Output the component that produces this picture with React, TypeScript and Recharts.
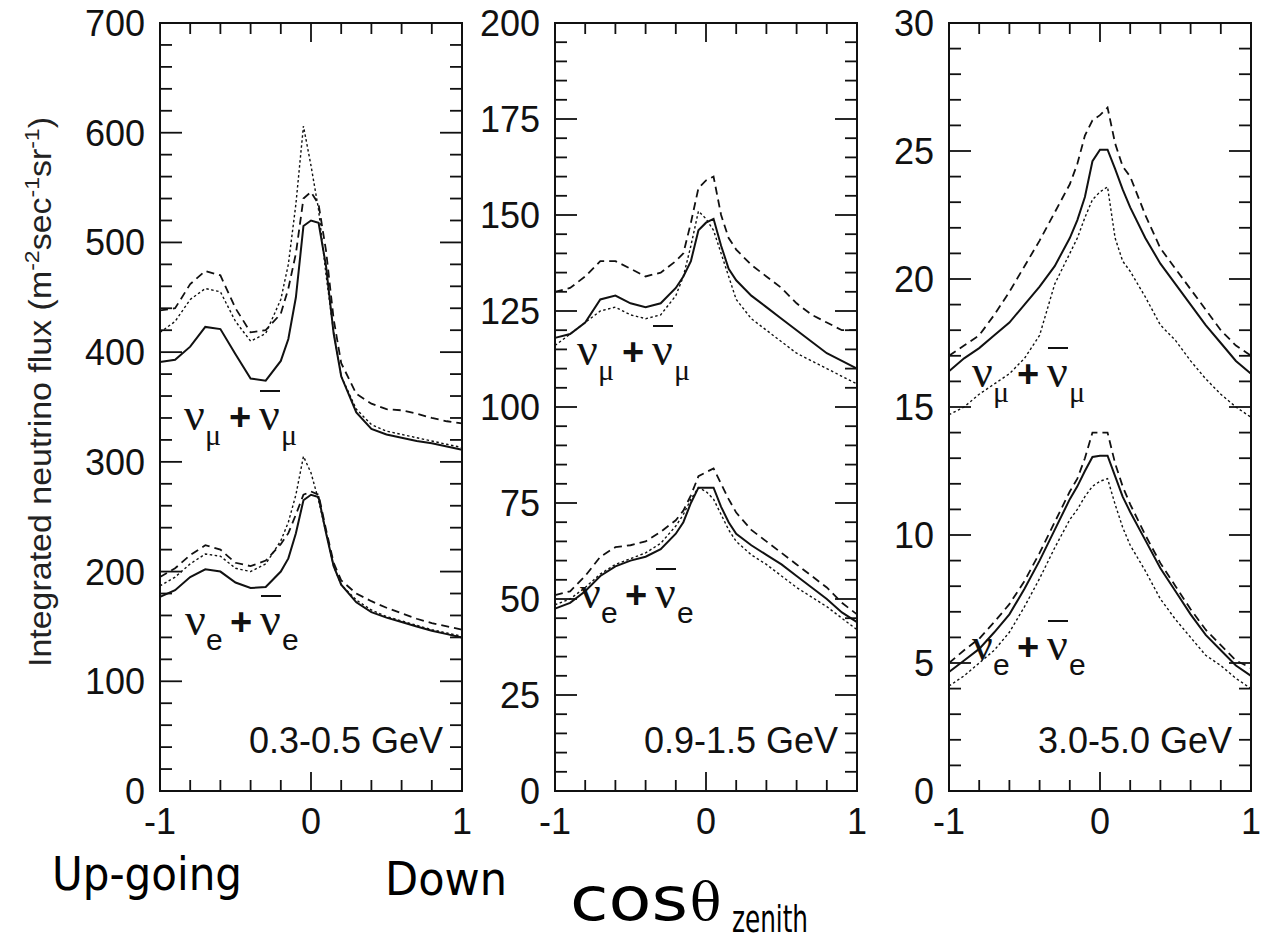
import React from 'react';
import { LineChart, Line, XAxis, YAxis, ReferenceArea } from 'recharts';

// cos(theta_zenith) sample points, shared by every curve
const COS_THETA = [-1, -0.9, -0.8, -0.7, -0.6, -0.5, -0.4, -0.3, -0.2, -0.15, -0.1, -0.05, 0, 0.05, 0.1, 0.15, 0.2, 0.3, 0.4, 0.5, 0.6, 0.7, 0.8, 0.9, 1];

// 0.3-0.5 GeV
const LOW_MU_SOLID = [391, 393, 405, 423, 421, 398, 376, 374, 392, 412, 450, 515, 520, 518, 478, 417, 378, 345, 330, 325, 322, 319, 317, 314, 311];
const LOW_MU_DASHED = [438, 440, 462, 474, 470, 440, 418, 420, 435, 458, 490, 540, 546, 535, 492, 430, 390, 362, 353, 348, 347, 344, 340, 337, 335];
const LOW_MU_DOTTED = [418, 428, 448, 458, 455, 428, 410, 417, 448, 480, 535, 606, 570, 530, 470, 418, 378, 348, 334, 328, 325, 322, 319, 316, 313];
const LOW_E_SOLID = [177, 183, 195, 202, 200, 190, 185, 186, 200, 212, 235, 265, 270, 268, 235, 205, 188, 172, 163, 158, 154, 150, 146, 143, 140];
const LOW_E_DASHED = [195, 203, 215, 224, 220, 208, 205, 210, 225, 235, 252, 270, 273, 270, 238, 208, 192, 180, 173, 167, 162, 157, 153, 150, 147];
const LOW_E_DOTTED = [187, 195, 207, 216, 214, 203, 200, 207, 228, 245, 270, 305, 290, 265, 235, 205, 188, 174, 165, 159, 155, 151, 147, 144, 141];

// 0.9-1.5 GeV
const MID_MU_SOLID = [118, 119, 122, 128, 129, 127, 126, 127, 131, 134, 138, 146, 148, 149, 142, 136, 133, 129, 126, 123, 120, 117, 114, 112, 110];
const MID_MU_DASHED = [130, 131, 134, 138, 138, 136, 134, 135, 138, 140, 148, 157, 159, 160, 150, 144, 141, 137, 134, 131, 127, 124, 122, 120, 120];
const MID_MU_DOTTED = [116, 119, 122, 125, 126, 124, 123, 124, 129, 134, 142, 151, 149, 146, 140, 134, 128, 123, 120, 117, 114, 112, 110, 108, 106];
const MID_E_SOLID = [47.5, 49, 52, 56, 58.5, 60, 61, 63, 67, 70, 75, 79, 79, 79, 74, 70, 67, 64, 61.5, 59, 56, 53, 50, 46.5, 44];
const MID_E_DASHED = [51, 52, 56, 61, 63.5, 64, 65, 67.5, 70.5, 73, 77, 82, 83, 84, 80, 76, 72.5, 68, 65, 62, 59, 56, 53, 49, 46];
const MID_E_DOTTED = [48.5, 50, 53, 56.5, 59, 60.5, 62, 64.5, 69, 72, 76, 79, 78, 76, 72, 68, 65, 61.5, 59, 56, 53, 50.5, 48, 45, 42];

// 3.0-5.0 GeV
const HIGH_MU_SOLID = [16.4, 16.9, 17.3, 17.8, 18.3, 19.0, 19.7, 20.5, 21.6, 22.3, 23.2, 24.6, 25.05, 25.05, 24.3, 23.5, 22.8, 21.6, 20.6, 19.8, 19.0, 18.2, 17.5, 16.8, 16.3];
const HIGH_MU_DASHED = [17.0, 17.4, 17.8, 18.6, 19.5, 20.5, 21.5, 22.6, 23.7, 24.5, 25.6, 26.2, 26.4, 26.7, 25.3, 24.4, 24.0, 22.5, 21.2, 20.4, 19.6, 18.8, 18.0, 17.4, 17.0];
const HIGH_MU_DOTTED = [14.7, 15.0, 15.5, 15.9, 16.3, 16.9, 17.8, 19.8, 21.0, 21.6, 22.4, 23.1, 23.4, 23.6, 21.6, 20.7, 20.3, 19.3, 18.2, 17.6, 16.8, 16.1, 15.5, 15.0, 14.6];
const HIGH_E_SOLID = [4.65, 5.1, 5.55, 6.2, 6.9, 7.9, 9.0, 10.2, 11.4, 11.9, 12.5, 13.05, 13.1, 13.1, 12.3, 11.5, 10.9, 9.8, 8.7, 7.8, 6.9, 6.1, 5.5, 4.9, 4.5];
const HIGH_E_DASHED = [5.0, 5.5, 5.95, 6.6, 7.3, 8.2, 9.3, 10.5, 11.7, 12.2, 13.0, 14.0, 14.0, 14.0, 12.8, 11.9, 11.2, 10.0, 8.9, 8.0, 7.1, 6.3, 5.7, 5.1, 4.8];
const HIGH_E_DOTTED = [4.1, 4.5, 5.0, 5.5, 6.2, 7.2, 8.3, 9.5, 10.6, 11.0, 11.5, 11.9, 12.1, 12.2, 11.2, 10.3, 9.6, 8.6, 7.5, 6.7, 6.0, 5.3, 4.9, 4.4, 4.0];

const X_TICKS = [-1, -0.8, -0.6, -0.4, -0.2, 0, 0.2, 0.4, 0.6, 0.8, 1];
const X_LABELS = [-1, 0, 1];
const LOW_Y_LABELS = [0, 100, 200, 300, 400, 500, 600, 700];
const MID_Y_LABELS = [0, 25, 50, 75, 100, 125, 150, 175, 200];
const HIGH_Y_LABELS = [0, 5, 10, 15, 20, 25, 30];

const ENERGY_LABELS = ['0.3-0.5 GeV', '0.9-1.5 GeV', '3.0-5.0 GeV'];

const PLOT_TOP = 23;
const PLOT_H = 768;
const PLOT_W = 302;
const INK = '#111';
const SANS = "'Liberation Sans', Arial, sans-serif";

const buildRows = (mu: number[][], e: number[][]) =>
  COS_THETA.map((c, i) => ({
    c,
    muSolid: mu[0][i],
    muDashed: mu[1][i],
    muDotted: mu[2][i],
    eSolid: e[0][i],
    eDashed: e[1][i],
    eDotted: e[2][i],
  }));

const PANELS = [
  { left: 0, axisW: 160, yMax: 700, minor: 20, labels: LOW_Y_LABELS, rows: buildRows([LOW_MU_SOLID, LOW_MU_DASHED, LOW_MU_DOTTED], [LOW_E_SOLID, LOW_E_DASHED, LOW_E_DOTTED]) },
  { left: 470, axisW: 85, yMax: 200, minor: 5, labels: MID_Y_LABELS, rows: buildRows([MID_MU_SOLID, MID_MU_DASHED, MID_MU_DOTTED], [MID_E_SOLID, MID_E_DASHED, MID_E_DOTTED]) },
  { left: 870, axisW: 79, yMax: 30, minor: 1, labels: HIGH_Y_LABELS, rows: buildRows([HIGH_MU_SOLID, HIGH_MU_DASHED, HIGH_MU_DOTTED], [HIGH_E_SOLID, HIGH_E_DASHED, HIGH_E_DOTTED]) },
];

const STYLES: Record<string, { dash?: string; w: number }> = {
  Solid: { w: 2 },
  Dashed: { dash: '8 5', w: 1.8 },
  Dotted: { dash: '2.5 2.5', w: 1.4 },
};

function Panel({ cfg }: { cfg: typeof PANELS[number] }) {
  const yTicks: number[] = [];
  for (let v = 0; v <= cfg.yMax + 1e-9; v += cfg.minor) yTicks.push(Math.round(v * 1000) / 1000);

  const yTick = (p: any) => {
    const v = p.payload.value;
    const major = cfg.labels.includes(v);
    const len = major ? 22 : 12;
    return (
      <g>
        <line x1={p.x} x2={p.x + len} y1={p.y} y2={p.y} stroke={INK} strokeWidth={1.8} />
        <line x1={p.x + PLOT_W} x2={p.x + PLOT_W - len} y1={p.y} y2={p.y} stroke={INK} strokeWidth={1.8} />
        {major && (
          <text x={p.x - 15} y={p.y} dy="0.36em" textAnchor="end" fontFamily={SANS} fontSize={36} fill={INK}>
            {v}
          </text>
        )}
      </g>
    );
  };

  const xTick = (p: any) => {
    const v = p.payload.value;
    const len = v === 0 ? 19 : 11;
    return (
      <g>
        <line x1={p.x} x2={p.x} y1={p.y} y2={p.y - len} stroke={INK} strokeWidth={1.8} />
        <line x1={p.x} x2={p.x} y1={p.y - PLOT_H} y2={p.y - PLOT_H + len} stroke={INK} strokeWidth={1.8} />
        {X_LABELS.includes(v) && (
          <text x={p.x} y={p.y + 43} textAnchor="middle" fontFamily={SANS} fontSize={36} fill={INK}>
            {v}
          </text>
        )}
      </g>
    );
  };

  const width = cfg.axisW + PLOT_W + 20;
  return (
    <div style={{ position: 'absolute', left: cfg.left, top: 0 }}>
      <LineChart width={width} height={880} data={cfg.rows} margin={{ top: PLOT_TOP, right: 20, bottom: 49, left: 0 }}
        style={{ overflow: 'visible' }}>
        <XAxis dataKey="c" type="number" domain={[-1, 1]} ticks={X_TICKS} interval={0} height={40}
          tickSize={0} tickMargin={0} tickLine={false} axisLine={false} tick={xTick} />
        <YAxis type="number" domain={[0, cfg.yMax]} ticks={yTicks} interval={0} width={cfg.axisW}
          tickSize={0} tickMargin={0} tickLine={false} axisLine={false} tick={yTick} />
        <ReferenceArea x1={-1} x2={1} y1={0} y2={cfg.yMax} fill="none" stroke={INK} strokeWidth={2} ifOverflow="visible" />
        {['mu', 'e'].flatMap((f) =>
          ['Solid', 'Dashed', 'Dotted'].map((s) => (
            <Line key={f + s} dataKey={f + s} type="linear" stroke={INK} strokeWidth={STYLES[s].w}
              strokeDasharray={STYLES[s].dash} dot={false} activeDot={false} isAnimationActive={false} />
          ))
        )}
      </LineChart>
    </div>
  );
}

// nu_x + anti-nu_x label, x/y is the baseline start of the first nu
function NuLabel({ x, y, sub }: { x: number; y: number; sub: string }) {
  const subFont = sub === 'μ' ? "'Liberation Serif', serif" : SANS;
  return (
    <g fill={INK}>
      <text x={x} y={y} fontFamily="'Liberation Serif', serif" fontSize={46}>ν</text>
      <text x={x + 21} y={y + 15} fontFamily={subFont} fontSize={30}>{sub}</text>
      <text x={x + 45} y={y} fontFamily={SANS} fontWeight="bold" fontSize={38}>+</text>
      <text x={x + 75} y={y} fontFamily="'Liberation Serif', serif" fontSize={46}>ν</text>
      <line x1={x + 76} x2={x + 96} y1={y - 39} y2={y - 39} stroke={INK} strokeWidth={2} />
      <text x={x + 97} y={y + 15} fontFamily={subFont} fontSize={30}>{sub}</text>
    </g>
  );
}

const LABEL_POS = [
  { mu: [184, 430], e: [185, 635] },
  { mu: [577, 365], e: [580, 608] },
  { mu: [972, 387], e: [972, 660] },
];

export default function App() {
  const calibri = "'Liberation Sans Narrow', 'DejaVu Sans Condensed', 'Open Sans', sans-serif";
  return (
    <div style={{ position: 'absolute', left: 0, top: 0, width: 1268, height: 944, background: '#fff', overflow: 'hidden' }}>
      {PANELS.map((cfg, i) => (
        <Panel key={i} cfg={cfg} />
      ))}
      <svg width={1268} height={944} style={{ position: 'absolute', left: 0, top: 0, pointerEvents: 'none' }}>
        <text transform="translate(51,392) rotate(-90)" textAnchor="middle" fontFamily={SANS} fontSize={31} fill="#222"
          textLength={550} lengthAdjust="spacingAndGlyphs">
          Integrated neutrino flux (m<tspan dy={-12} fontSize={21}>-2</tspan><tspan dy={12}>sec</tspan>
          <tspan dy={-12} fontSize={21}>-1</tspan><tspan dy={12}>sr</tspan><tspan dy={-12} fontSize={21}>-1</tspan>
          <tspan dy={12}>)</tspan>
        </text>
        {PANELS.map((cfg, i) => (
          <text key={i} x={cfg.left + cfg.axisW + PLOT_W - 19} y={753} textAnchor="end" fontFamily={SANS} fontSize={36} fill={INK}>
            {ENERGY_LABELS[i]}
          </text>
        ))}
        {LABEL_POS.map((p, i) => (
          <g key={i}>
            <NuLabel x={p.mu[0]} y={p.mu[1]} sub="μ" />
            <NuLabel x={p.e[0]} y={p.e[1]} sub="e" />
          </g>
        ))}
        <text x={52} y={890} fontFamily={calibri} fontSize={46} fill="#000" textLength={190} lengthAdjust="spacingAndGlyphs">Up-going</text>
        <text x={385} y={895} fontFamily={calibri} fontSize={46} fill="#000" textLength={122} lengthAdjust="spacingAndGlyphs">Down</text>
        <text x={570} y={920} fontFamily={calibri} fontSize={60} fill="#000" textLength={118} lengthAdjust="spacingAndGlyphs">cos</text>
        <text x={690} y={920} fontFamily="'DejaVu Serif', serif" fontSize={52} fill="#000">θ</text>
        <text x={732} y={932} fontFamily={calibri} fontSize={38} fill="#000" textLength={76} lengthAdjust="spacingAndGlyphs">zenith</text>
      </svg>
    </div>
  );
}
